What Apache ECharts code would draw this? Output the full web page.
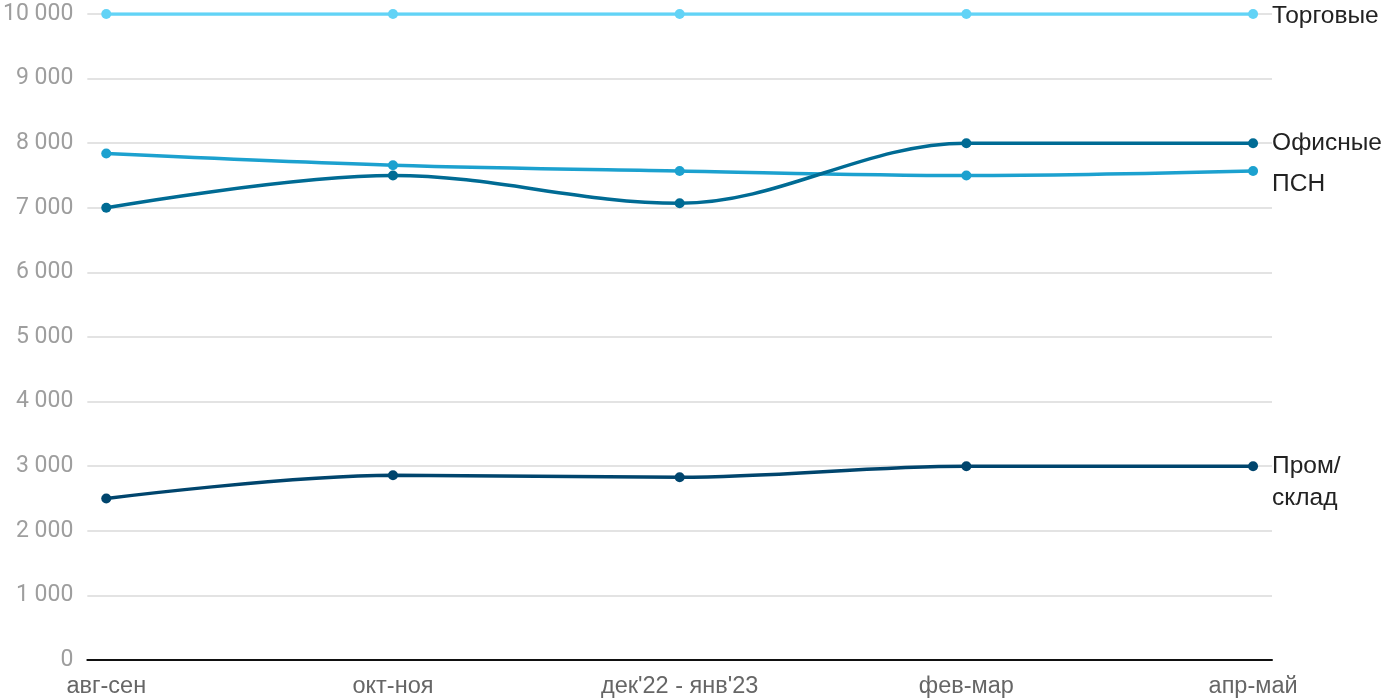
<!DOCTYPE html>
<html>
<head>
<meta charset="utf-8">
<script src="https://cdn.jsdelivr.net/npm/echarts@6/dist/echarts.min.js"></script>
<style>html,body{margin:0;padding:0;background:#fff}#c{width:1400px;height:700px}</style>
</head>
<body>
<div id="c"></div>
<script>
const categories = ['авг-сен', 'окт-ноя', "дек'22 - янв'23", 'фев-мар', 'апр-май'];
const torgovye = [10000, 10000, 10000, 10000, 10000];
const ofisnye = [7000, 7500, 7070, 8000, 8000];
const psn = [7840, 7660, 7570, 7500, 7570];
const prom = [2500, 2860, 2830, 3000, 3000];
const seriesNames = ['Торговые', 'Офисные', 'ПСН', 'Пром/\nсклад'];
const yTicks = [0, 1000, 2000, 3000, 4000, 5000, 6000, 7000, 8000, 9000, 10000];

const chart = echarts.init(document.getElementById('c'));
function pairs(arr) { return arr.map((v, i) => [i, v]); }
function mk(name, data, color, offset, z) {
  return {
    name: name, type: 'line', data: pairs(data), smooth: 0.35,
    symbol: 'circle', symbolSize: 10, z: z,
    lineStyle: { color: color, width: 3.5 },
    itemStyle: { color: color },
    endLabel: {
      show: true, formatter: '{a}', color: '#222', fontSize: 24.5,
      fontFamily: 'Liberation Sans', distance: 19, offset: offset, lineHeight: 32
    }
  };
}
chart.setOption({
  animation: false,
  grid: { left: 86, right: 128, top: 14, bottom: 40, containLabel: false },
  xAxis: {
    type: 'value', min: -0.066, max: 4.066,
    axisLine: { show: true, onZero: false, lineStyle: { color: '#111', width: 2 } },
    axisTick: { show: false },
    splitLine: { show: false },
    axisLabel: {
      customValues: [0, 1, 2, 3, 4],
      formatter: v => categories[Math.round(v)],
      color: '#666', fontSize: 23.5, fontFamily: 'Liberation Sans', margin: 15
    }
  },
  yAxis: {
    type: 'value', min: 0, max: 10000, interval: 1000,
    axisLine: { show: false }, axisTick: { show: false },
    splitLine: { lineStyle: { color: '#e3e3e3', width: 2 } },
    axisLabel: {
      customValues: yTicks,
      formatter: v => String(v).replace(/\B(?=(\d{3})+(?!\d))/g, ' '),
      color: '#9e9e9e', fontSize: 23, fontFamily: 'Roboto', margin: 14
    }
  },
  series: [
    mk(seriesNames[0], torgovye, '#62d3f6', [0, 2], 4),
    mk(seriesNames[2], psn, '#1ca1cf', [0, 13], 3),
    mk(seriesNames[1], ofisnye, '#006b94', [0, 0], 5),
    mk(seriesNames[3], prom, '#00456d', [0, 16], 2)
  ]
});
</script>
</body>
</html>
